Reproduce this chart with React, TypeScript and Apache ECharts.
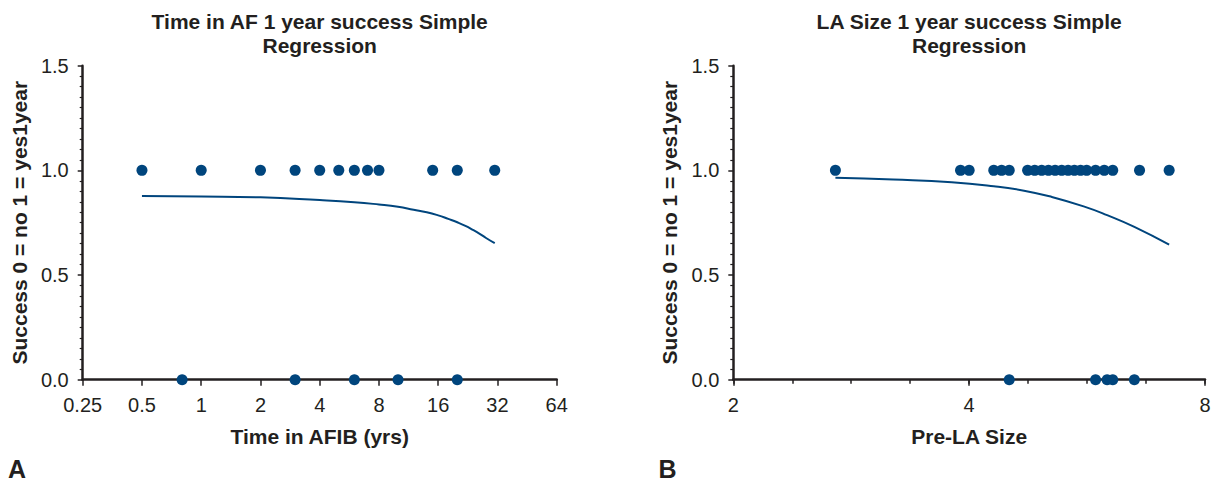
import React, { useEffect, useRef } from "react";
import * as echarts from "echarts";

// ---- Panel A: Time in AF ----
const afTicks = [0.25, 0.5, 1, 2, 4, 8, 16, 32, 64];
const afYesX = [0.5, 1, 2, 3, 4, 5, 6, 7, 8, 15, 20, 31];
const afNoX = [0.8, 3, 6, 10, 20];
const afCurveX = [0.5, 1, 2, 4, 6, 8, 10, 12, 14, 16, 18, 20, 22, 24, 26, 28, 31];
const afCurveY = [0.877, 0.875, 0.871, 0.858, 0.848, 0.837, 0.826, 0.812, 0.8, 0.785, 0.768, 0.752, 0.735, 0.716, 0.697, 0.677, 0.652];

// ---- Panel B: LA size ----
const laTicks = [2, 4, 8];
const laYesX = [2.7, 3.9, 4.0, 4.3, 4.4, 4.5, 4.75, 4.85, 4.95, 5.05, 5.15, 5.25, 5.35, 5.45, 5.55, 5.65, 5.8, 5.95, 6.1, 6.6, 7.2];
const laNoX = [4.5, 5.8, 6.0, 6.1, 6.5];
const laCurveX = [2.7, 3.2, 3.8, 4.3, 4.7, 5.1, 5.6, 6.0, 6.5, 7.2];
const laCurveY = [0.965, 0.956, 0.943, 0.924, 0.903, 0.873, 0.828, 0.786, 0.73, 0.645];

const yTicks = [0, 0.5, 1.0, 1.5];

const titles = ["Time in AF 1 year success Simple\nRegression", "LA Size 1 year success Simple\nRegression"];
const xNames = ["Time in AFIB (yrs)", "Pre-LA Size"];
const yName = "Success 0 = no 1 = yes1year";
const panelLetters = ["A", "B"];

const FONT = "'Liberation Sans', Arial, Helvetica, sans-serif";
const INK = "#231f20";
const BLUE = "#00457d";

const grids = [
  { left: 82.7, top: 65.7, width: 474, height: 314 },
  { left: 733.3, top: 65.7, width: 471.7, height: 314 },
];

function yAxis(gridIndex: number) {
  return {
    type: "value",
    gridIndex,
    min: yTicks[0],
    max: yTicks[yTicks.length - 1],
    interval: 0.5,
    name: yName,
    nameLocation: "middle",
    nameGap: 53,
    nameTextStyle: { fontFamily: FONT, fontSize: 21, fontWeight: "bold", color: INK },
    axisLine: { show: true, lineStyle: { color: INK, width: 2.5 } },
    axisTick: { show: true, length: 5, lineStyle: { color: INK, width: 1.5 } },
    minorTick: { show: true, splitNumber: 10, length: 3, lineStyle: { color: INK, width: 1.2 } },
    splitLine: { show: false },
    axisLabel: {
      fontFamily: FONT,
      fontSize: 20,
      color: INK,
      margin: 14,
      formatter: (v: number) => v.toFixed(1),
    },
  };
}

function xLogAxis(gridIndex: number, ticks: number[], name: string) {
  return {
    type: "log",
    logBase: 2,
    gridIndex,
    min: ticks[0],
    max: ticks[ticks.length - 1],
    interval: 1,
    splitNumber: ticks.length - 1,
    name,
    nameLocation: "middle",
    nameGap: 46,
    nameTextStyle: { fontFamily: FONT, fontSize: 21, fontWeight: "bold", color: INK },
    axisLine: { show: true, lineStyle: { color: INK, width: 2.5 } },
    axisTick: { show: true, length: 6, lineStyle: { color: INK, width: 1.5 } },
    minorTick: { show: false },
    splitLine: { show: false },
    axisLabel: {
      fontFamily: FONT,
      fontSize: 20,
      color: INK,
      margin: 15,
      formatter: (v: number) => String(v),
    },
  };
}

export default function App() {
  const ref = useRef<HTMLDivElement>(null);

  useEffect(() => {
    document.body.style.margin = "0";
    if (!ref.current) return;
    const chart = echarts.init(ref.current, null, { renderer: "svg" });

    const pair = (xs: number[], ys: number[]) => xs.map((x, i) => [x, ys[i]]);
    const flat = (xs: number[], y: number) => xs.map((x) => [x, y]);

    const option: any = {
      animation: false,
      backgroundColor: "#ffffff",
      grid: grids,
      xAxis: [
        xLogAxis(0, afTicks, xNames[0]),
        xLogAxis(1, laTicks, xNames[1]),
        // helper axis for quarter-octave minor ticks on panel B
        {
          type: "value",
          gridIndex: 1,
          position: "bottom",
          min: Math.log2(laTicks[0]),
          max: Math.log2(laTicks[laTicks.length - 1]),
          interval: 0.25,
          axisLine: { show: false },
          axisTick: { show: true, length: 4, lineStyle: { color: INK, width: 1.5 } },
          axisLabel: { show: false },
          splitLine: { show: false },
        },
      ],
      yAxis: [yAxis(0), yAxis(1)],
      series: [
        {
          type: "line",
          xAxisIndex: 0,
          yAxisIndex: 0,
          data: pair(afCurveX, afCurveY),
          smooth: true,
          showSymbol: false,
          lineStyle: { color: BLUE, width: 2 },
          z: 3,
        },
        {
          type: "scatter",
          xAxisIndex: 0,
          yAxisIndex: 0,
          data: flat(afYesX, 1),
          symbolSize: 11,
          itemStyle: { color: BLUE, opacity: 1 },
          clip: false,
          z: 4,
        },
        {
          type: "scatter",
          xAxisIndex: 0,
          yAxisIndex: 0,
          data: flat(afNoX, 0),
          symbolSize: 11,
          itemStyle: { color: BLUE, opacity: 1 },
          clip: false,
          z: 4,
        },
        {
          type: "line",
          xAxisIndex: 1,
          yAxisIndex: 1,
          data: pair(laCurveX, laCurveY),
          smooth: true,
          showSymbol: false,
          lineStyle: { color: BLUE, width: 2 },
          z: 3,
        },
        {
          type: "scatter",
          xAxisIndex: 1,
          yAxisIndex: 1,
          data: flat(laYesX, 1),
          symbolSize: 11,
          itemStyle: { color: BLUE, opacity: 1 },
          clip: false,
          z: 4,
        },
        {
          type: "scatter",
          xAxisIndex: 1,
          yAxisIndex: 1,
          data: flat(laNoX, 0),
          symbolSize: 11,
          itemStyle: { color: BLUE, opacity: 1 },
          clip: false,
          z: 4,
        },
      ],
      graphic: [
        ...titles.map((t, i) => ({
          type: "text",
          x: grids[i].left + grids[i].width / 2,
          y: 9,
          style: {
            text: t,
            align: "center",
            verticalAlign: "top",
            fontFamily: FONT,
            fontSize: 21,
            fontWeight: "bold",
            lineHeight: 24.5,
            fill: INK,
          },
        })),
        ...panelLetters.map((l, i) => ({
          type: "text",
          x: i === 0 ? 8 : 658.5,
          y: 469,
          style: {
            text: l,
            align: "left",
            verticalAlign: "middle",
            fontFamily: FONT,
            fontSize: 25,
            fontWeight: "bold",
            fill: INK,
          },
        })),
      ],
    };

    chart.setOption(option);
    return () => chart.dispose();
  }, []);

  return <div ref={ref} style={{ width: 1217, height: 483 }} />;
}
